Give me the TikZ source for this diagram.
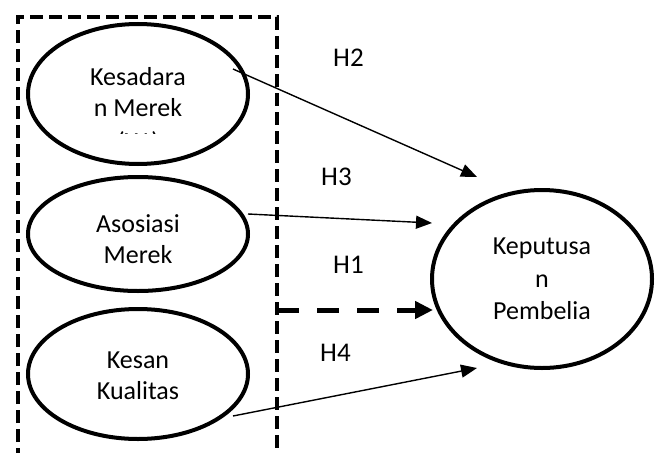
\documentclass[tikz,border=0pt]{standalone}
\usepackage{fontspec}
\setmainfont{Carlito}
\usetikzlibrary{arrows.meta,shapes.geometric}
\begin{document}
\begin{tikzpicture}[x=1pt,y=-1pt,
  oval/.style={draw,line width=4pt,ellipse,inner sep=0pt},
  txt/.style={font=\fontsize{26}{31}\selectfont,anchor=base,inner sep=0pt},
  hlab/.style={font=\fontsize{27}{32}\selectfont,anchor=base west,inner sep=0pt},
  arr/.style={line width=1.4pt,-{Triangle[length=16pt,width=13pt]}},
  grp/.style={line width=4.5pt,dash pattern=on 13pt off 6pt}]
\useasboundingbox (0,0) rectangle (660,452);
\clip (0,0) rectangle (660,452);
% group box
\draw[grp] (18,480) -- (18,17) -- (277,17) -- (277,480);
% ellipses
\node[oval,minimum width=220pt,minimum height=140pt] (e1) at (138,94) {};
\node[oval,minimum width=220pt,minimum height=114pt] (e2) at (138,234) {};
\node[oval,minimum width=220pt,minimum height=130pt] (e3) at (138,374) {};
\node[oval,minimum width=220pt,minimum height=178pt] (e4) at (542,279) {};
% texts
\begin{scope}
\clip (30,40) rectangle (246,133.5);
\node[txt] (t1a) at (138,85) {Kesadara};
\node[txt] (t1b) at (138,116) {n Merek};
\node[txt] (t1c) at (138,150) {(X1)};
\end{scope}
\begin{scope}
\clip (30,190) rectangle (246,263);
\node[txt] (t2a) at (138,232) {Asosiasi};
\node[txt] (t2b) at (138,263.5) {Merek};
\end{scope}
\node[txt] (t3a) at (138,368) {Kesan};
\node[txt] (t3b) at (138,399) {Kualitas};
\node[txt] (t4a) at (542,254) {Keputusa};
\node[txt] (t4b) at (542,287) {n};
\node[txt] (t4c) at (542,319) {Pembelia};
% hypothesis labels
\node[hlab] (h2) at (333,66.5) {H2};
\node[hlab] (h3) at (321,185) {H3};
\node[hlab] (h1) at (333,273) {H1};
\node[hlab] (h4) at (320,361) {H4};
% connector ends
\coordinate (s2) at (233,69);
\coordinate (p2) at (477,177);
\coordinate (s3) at (248,214);
\coordinate (p3) at (432,223);
\coordinate (s1) at (277,310);
\coordinate (p1) at (433,310);
\coordinate (s4) at (233,416);
\coordinate (p4) at (477,368);
\draw[arr] (s2) -- (p2);
\draw[arr] (s3) -- (p3);
\draw[arr] (s4) -- (p4);
\draw[line width=5pt,dash pattern=on 22pt off 18pt,-{Triangle[length=18pt,width=17pt]}] (s1) -- (p1);
\end{tikzpicture}
\end{document}
